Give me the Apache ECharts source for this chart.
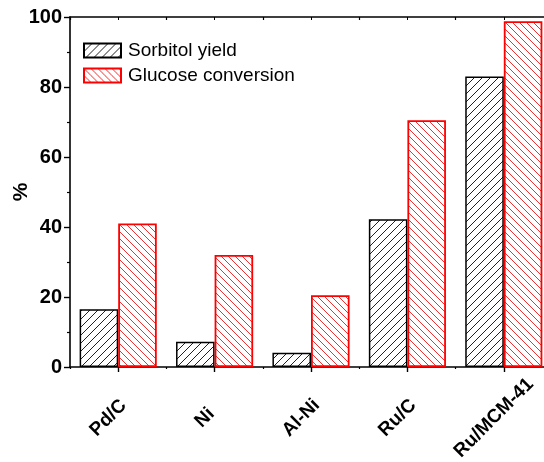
<!DOCTYPE html>
<html>
<head>
<meta charset="utf-8">
<script src="https://cdn.jsdelivr.net/npm/echarts@6/dist/echarts.min.js"></script>
<style>
  html, body { margin: 0; padding: 0; background: #fff; }
  #chart { width: 544px; height: 462px; }
</style>
</head>
<body>
<div id="chart"></div>
<script>
// Catalysts and their performance (%)
const catalysts = ['Pd/C', 'Ni', 'Al-Ni', 'Ru/C', 'Ru/MCM-41'];
const sorbitolYield = [16.5, 7.2, 4.1, 42.2, 83.0];
const glucoseConversion = [41.0, 32.0, 20.5, 70.5, 98.8];
const yTicks = [0, 20, 40, 60, 80, 100];

// Hatch fill: diagonal lines on white, drawn into a small repeating tile
function hatch(color, period, forward, lineWidth) {
  const c = document.createElement('canvas');
  c.width = period; c.height = period;
  const g = c.getContext('2d');
  g.fillStyle = '#fff';
  g.fillRect(0, 0, period, period);
  g.strokeStyle = color;
  g.lineWidth = lineWidth;
  g.beginPath();
  for (let k = -1; k <= 1; k++) {
    if (forward) {           // "/" lines
      g.moveTo(k * period, period);
      g.lineTo(k * period + period, 0);
    } else {                 // "\" lines
      g.moveTo(k * period, 0);
      g.lineTo(k * period + period, period);
    }
  }
  g.stroke();
  return { image: c, repeat: 'repeat' };
}

const FONT = '"Liberation Sans", Arial, sans-serif';
const chart = echarts.init(document.getElementById('chart'), null, { renderer: 'canvas' });

// Extra category axis carrying only ticks (band boundaries or frame ticks)
const tickOnlyAxis = (pos, inside, len, align) => ({
  type: 'category', data: catalysts, position: pos, gridIndex: 0,
  axisLine: { show: false }, axisLabel: { show: false }, splitLine: { show: false },
  axisTick: { show: true, inside: inside, length: len, alignWithLabel: align,
              lineStyle: { color: '#000', width: 1.2 } }
});

chart.setOption({
  animation: false,
  backgroundColor: '#fff',
  grid: { left: 70, top: 17, width: 482, height: 350, containLabel: false, outerBoundsMode: 'none' },
  legend: {
    orient: 'vertical', left: 83, top: 41, padding: 0,
    itemWidth: 37, itemHeight: 14, itemGap: 6,
    icon: 'rect',
    textStyle: { fontFamily: FONT, fontSize: 19, lineHeight: 19, color: '#000', padding: [0, 0, 0, 2] },
    data: ['Sorbitol yield', 'Glucose conversion']
  },
  xAxis: [
    {
      type: 'category', data: catalysts, position: 'bottom',
      axisLine: { show: true, lineStyle: { color: '#000', width: 1.6 } },
      axisTick: { show: true, alignWithLabel: true, length: 5, lineStyle: { color: '#000', width: 1.4 } },
      axisLabel: {
        rotate: 45, margin: 41, interval: 0,
        align: 'center', verticalAlign: 'middle',
        padding: [0, 28, 0, 0],
        fontFamily: FONT, fontSize: 19, fontWeight: 'bold', color: '#000'
      },
      splitLine: { show: false }
    },
    tickOnlyAxis('bottom', false, 2, false),
    {
      type: 'category', data: catalysts, position: 'top',
      axisLine: { show: true, lineStyle: { color: '#000', width: 1.6 } },
      axisTick: { show: true, inside: true, alignWithLabel: true, length: 3, lineStyle: { color: '#000', width: 1 } },
      axisLabel: { show: false }, splitLine: { show: false }
    },
    tickOnlyAxis('top', true, 3, false)
  ],
  yAxis: [
    {
      type: 'value', min: 0, max: 100, interval: 20,
      name: '%', nameLocation: 'middle', nameGap: 38, nameRotate: 90,
      nameMoveOverlap: false,
      nameTextStyle: { fontFamily: FONT, fontSize: 21, fontWeight: 'bold', color: '#000' },
      axisLine: { show: true, lineStyle: { color: '#000', width: 1.6 } },
      axisTick: { show: true, length: 6, lineStyle: { color: '#000', width: 1.4 } },
      minorTick: { show: true, splitNumber: 2, length: 3, lineStyle: { color: '#000', width: 1.2 } },
      axisLabel: {
        margin: 8, fontFamily: FONT, fontSize: 20, fontWeight: 'bold', color: '#000',
        customValues: yTicks
      },
      splitLine: { show: false }
    }
  ],
  series: [
    {
      name: 'Sorbitol yield', type: 'bar', data: sorbitolYield,
      barGap: '0%', barCategoryGap: '20%',
      itemStyle: { color: hatch('#222', 8, true, 1), borderColor: '#000', borderWidth: 1.5 }
    },
    {
      name: 'Glucose conversion', type: 'bar', data: glucoseConversion,
      barGap: '0%', barCategoryGap: '20%',
      itemStyle: { color: hatch('#f03030', 7, false, 1), borderColor: '#ff0000', borderWidth: 1.8 }
    }
  ]
});
</script>
</body>
</html>
